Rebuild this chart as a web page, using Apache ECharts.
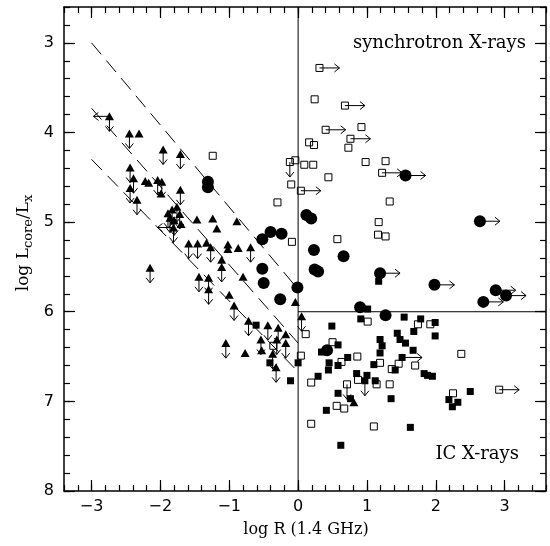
<!DOCTYPE html>
<html>
<head>
<meta charset="utf-8">
<script src="https://cdn.jsdelivr.net/npm/echarts@6/dist/echarts.min.js"></script>
<style>html,body{margin:0;padding:0;background:#fff}#c{width:550px;height:546px}</style>
</head>
<body>
<div id="c"></div>
<script>
// ---- tick values ----
const xMajor = [-3, -2, -1, 0, 1, 2, 3];
const xMinor = [-3.4,-3.2,-3,-2.8,-2.6,-2.4,-2.2,-2,-1.8,-1.6,-1.4,-1.2,-1,-0.8,-0.6,-0.4,-0.2,0,0.2,0.4,0.6,0.8,1,1.2,1.4,1.6,1.8,2,2.2,2.4,2.6,2.8,3,3.2,3.4,3.6];
const yMajor = [3, 4, 5, 6, 7, 8];
const yMinor = [2.6,2.8,3,3.2,3.4,3.6,3.8,4,4.2,4.4,4.6,4.8,5,5.2,5.4,5.6,5.8,6,6.2,6.4,6.6,6.8,7,7.2,7.4,7.6,7.8,8];

// ---- data: [log R, log Lcore/Lx, limit flags (d=down, r=right, l=left)] ----
const triangles = [
  [-2.74,3.82,'dl'],[-2.45,4.01,'d'],[-2.31,4.01,''],[-1.96,4.19,'d'],[-1.71,4.24,'d'],
  [-2.44,4.39,'d'],[-2.39,4.51,'d'],[-2.22,4.54,''],[-2.17,4.56,''],[-2.04,4.53,'d'],
  [-1.98,4.55,'d'],[-1.99,4.68,''],[-2.44,4.62,'d'],[-2.34,4.75,'d'],[-1.71,4.64,'d'],
  [-1.89,4.90,'d'],[-1.83,4.86,'d'],[-1.76,4.83,'d'],[-1.72,4.91,'d'],[-1.80,4.98,'d'],
  [-1.70,5.02,''],[-1.86,4.95,'d'],[-1.81,5.06,'dl'],[-1.47,4.97,''],[-1.24,4.96,''],
  [-1.18,5.07,''],[-0.89,4.99,''],[-1.59,5.24,'d'],[-1.46,5.24,'d'],[-1.33,5.23,''],
  [-1.27,5.28,'d'],[-1.02,5.25,''],[-1.02,5.30,''],[-0.87,5.29,''],[-0.69,5.28,'d'],
  [-1.11,5.42,''],[-1.11,5.50,'d'],[-2.15,5.51,'d'],[-1.44,5.61,'d'],[-1.30,5.62,'d'],
  [-1.30,5.75,'d'],[-0.80,5.61,''],[-1.00,5.81,''],[-0.93,5.93,'d'],[-0.72,6.10,'d'],
  [-0.44,6.15,'d'],[-0.29,6.18,'d'],[-0.18,6.25,''],[-0.54,6.31,'d'],[-0.53,6.43,''],
  [-0.31,6.31,'d'],[-0.18,6.35,'d'],[-1.05,6.35,'d'],[-0.77,6.46,''],[-0.37,6.47,'d'],
  [-0.32,6.62,'d'],[-0.04,5.89,''],[0.05,6.05,'d'],[0.81,7.01,'']
];
const circles = [
  [-1.31,4.55,''],[-1.31,4.61,''],[-0.52,5.19,''],[-0.40,5.11,''],[-0.24,5.13,''],
  [-0.52,5.52,''],[-0.50,5.68,''],[-0.01,5.73,''],[-0.26,5.86,''],[0.12,4.92,''],
  [0.19,4.96,''],[0.23,5.31,''],[0.66,5.38,''],[0.24,5.53,''],[0.29,5.55,''],
  [1.19,5.57,'r'],[1.56,4.48,'r'],[2.64,4.99,'r'],[1.98,5.70,'r'],[2.87,5.76,'r'],
  [3.02,5.82,'r'],[2.69,5.89,'r'],[0.90,5.95,''],[1.27,6.04,''],[0.42,6.43,'']
];
const openSquares = [
  [0.31,3.28,'r'],[0.24,3.63,''],[0.68,3.70,'r'],[0.40,3.97,'r'],[0.92,3.94,''],
  [0.76,4.07,'r'],[0.16,4.11,''],[0.23,4.14,''],[0.73,4.17,''],[-0.12,4.33,'d'],
  [-0.04,4.31,''],[0.09,4.36,''],[0.22,4.36,''],[0.98,4.33,''],[1.27,4.32,''],
  [0.44,4.50,''],[1.22,4.45,'r'],[-0.10,4.58,''],[0.04,4.65,'r'],[-0.30,4.78,''],
  [1.33,4.77,''],[1.17,5.00,''],[1.16,5.14,''],[1.27,5.16,''],[0.57,5.19,''],
  [-0.09,5.22,''],[-1.24,4.26,''],[-0.36,6.38,''],[1.01,6.11,''],[1.74,6.14,''],
  [1.92,6.14,''],[0.11,6.25,''],[0.50,6.34,''],[2.37,6.47,''],[0.04,6.49,''],
  [0.86,6.50,''],[0.63,6.56,''],[1.19,6.57,''],[1.46,6.58,''],[1.70,6.60,''],
  [1.36,6.64,''],[0.19,6.79,''],[0.87,6.76,''],[1.14,6.81,''],[1.33,6.81,''],
  [0.71,6.81,'d'],[2.25,6.91,''],[2.92,6.87,'r'],[0.56,7.05,''],[0.67,7.08,''],
  [0.19,7.25,''],[1.10,7.28,'']
];
const filledSquares = [
  [1.17,5.66,''],[1.01,5.97,''],[1.54,6.06,''],[0.91,6.08,''],[0.49,6.16,''],
  [1.78,6.08,''],[1.99,6.12,''],[1.68,6.22,''],[1.44,6.24,''],[1.99,6.27,''],
  [1.19,6.31,''],[1.22,6.38,''],[1.19,6.46,''],[1.48,6.31,''],[1.56,6.35,''],
  [0.58,6.37,''],[1.67,6.43,''],[0.34,6.45,''],[0.72,6.51,''],[1.51,6.51,'r'],
  [0.45,6.57,''],[0.58,6.60,''],[1.10,6.59,''],[1.41,6.65,''],[0.44,6.65,''],
  [0.29,6.72,''],[0.85,6.69,''],[1.00,6.71,''],[0.97,6.77,'d'],[1.12,6.77,''],
  [1.83,6.69,''],[1.88,6.71,''],[1.95,6.72,''],[0.58,6.91,''],[0.76,6.97,''],
  [1.35,6.97,''],[0.41,7.10,''],[2.19,6.98,''],[2.32,7.01,''],[2.24,7.06,''],
  [2.50,6.89,''],[1.63,7.29,''],[0.62,7.49,''],[-0.11,6.77,''],[0.00,6.57,''],
  [-0.61,6.15,''],[-0.41,6.57,'']
];
// reference lines
const dashedUpper = [[-3, 3.00], [0, 5.75]];
const dashedMiddle = [[-3, 3.73], [0, 6.35]];
const dashedLower = [[-3, 4.30], [0, 6.67]];
const verticalLine = [[0, 2.6], [0, 8]];
const horizontalLine = [[0, 6], [3.6, 6]];

// ---- build ----
const arrows = [];
[triangles, circles, openSquares, filledSquares].forEach(arr => arr.forEach(p => {
  if (p[2].indexOf('d') >= 0) arrows.push([p[0], p[1], 0]);
  if (p[2].indexOf('r') >= 0) arrows.push([p[0], p[1], 1]);
  if (p[2].indexOf('l') >= 0) arrows.push([p[0], p[1], 2]);
}));
const xy = arr => arr.map(p => [p[0], p[1]]);

function renderArrow(params, api) {
  const c = api.coord([api.value(0), api.value(1)]);
  const dir = api.value(2);
  let x2 = c[0], y2 = c[1], head;
  if (dir === 0) { y2 = c[1] + 15; head = [[x2 - 4, y2 - 5], [x2, y2], [x2 + 4, y2 - 5]]; }
  else if (dir === 1) { x2 = c[0] + 20; head = [[x2 - 5, y2 - 4], [x2, y2], [x2 - 5, y2 + 4]]; }
  else { x2 = c[0] - 16; head = [[x2 + 5, y2 - 4], [x2, y2], [x2 + 5, y2 + 4]]; }
  return {
    type: 'group',
    children: [
      { type: 'line', shape: { x1: c[0], y1: c[1], x2: x2, y2: y2 }, style: { stroke: '#000', lineWidth: 1 } },
      { type: 'polyline', shape: { points: head }, style: { stroke: '#000', fill: null, lineWidth: 1 } }
    ]
  };
}

const tickFont = { fontFamily: 'DejaVu Sans', fontSize: 16, color: '#000' };
const fmt = v => (v < 0 ? '\u2212' + Math.abs(v) : String(v));
const base = { type: 'value', splitLine: { show: false } };
function xAx(pos, vals, len, line, labels) {
  return Object.assign({}, base, {
    position: pos, min: -3.4, max: 3.6,
    axisLine: { show: line, onZero: false, lineStyle: { color: '#000', width: 1.5 } },
    axisTick: { show: true, inside: true, length: len, customValues: vals, lineStyle: { color: '#000', width: 1.2 } },
    axisLabel: labels ? Object.assign({ customValues: xMajor, formatter: fmt, margin: 8 }, tickFont) : { show: false }
  });
}
function yAx(pos, vals, len, line, labels) {
  return Object.assign({}, base, {
    position: pos, min: 2.6, max: 8, inverse: true,
    axisLine: { show: line, onZero: false, lineStyle: { color: '#000', width: 1.5 } },
    axisTick: { show: true, inside: true, length: len, customValues: vals, lineStyle: { color: '#000', width: 1.2 } },
    axisLabel: labels ? Object.assign({ customValues: yMajor, formatter: fmt, margin: 10 }, tickFont) : { show: false }
  });
}

const lineSeries = (data, dashed) => ({
  type: 'line', data: data, symbol: 'none', silent: true, animation: false,
  lineStyle: { color: '#000', width: 1, type: dashed ? [15, 8] : 'solid' }, z: 1
});

const chart = echarts.init(document.getElementById('c'), null, { renderer: 'canvas' });
chart.setOption({
  animation: false,
  backgroundColor: '#fff',
  grid: { left: 64, top: 7, right: 4, bottom: 55 },
  xAxis: [xAx('bottom', xMajor, 11, true, true), xAx('bottom', xMinor, 6, false, false),
          xAx('top', xMajor, 11, true, false), xAx('top', xMinor, 6, false, false)],
  yAxis: [yAx('left', yMajor, 11, true, true), yAx('left', yMinor, 6, false, false),
          yAx('right', yMajor, 11, true, false), yAx('right', yMinor, 6, false, false)],
  graphic: [
    { type: 'text', x: 306, y: 530, style: { text: 'log R (1.4 GHz)', font: '16px "DejaVu Serif"', fill: '#000', align: 'center', verticalAlign: 'middle' } },
    { type: 'text', x: 24, y: 243, rotation: Math.PI / 2,
      style: { text: 'log L{s|core}/L{s|x}', fill: '#000', font: '17px "DejaVu Serif"', align: 'center', verticalAlign: 'middle',
        rich: { s: { font: '13px "DejaVu Serif"', padding: [9, 0, 0, 0] } } } },
    { type: 'text', x: 526, y: 43, style: { text: 'synchrotron X-rays', font: '18px "DejaVu Serif"', fill: '#000', align: 'right', verticalAlign: 'middle' } },
    { type: 'text', x: 519, y: 454, style: { text: 'IC X-rays', font: '18px "DejaVu Serif"', fill: '#000', align: 'right', verticalAlign: 'middle' } }
  ],
  series: [
    lineSeries(dashedUpper, true), lineSeries(dashedMiddle, true), lineSeries(dashedLower, true),
    lineSeries(verticalLine, false), lineSeries(horizontalLine, false),
    { type: 'custom', renderItem: renderArrow, data: arrows, encode: { x: 0, y: 1 }, z: 2, silent: true },
    { type: 'scatter', data: xy(openSquares), symbol: 'rect', symbolSize: 7, z: 3,
      itemStyle: { color: 'rgba(255,255,255,0)', borderColor: '#000', borderWidth: 1, opacity: 1 } },
    { type: 'scatter', data: xy(filledSquares), symbol: 'rect', symbolSize: 7, z: 3, itemStyle: { color: '#000', opacity: 1 } },
    { type: 'scatter', data: xy(triangles), symbol: 'triangle', symbolSize: [9, 8], z: 3, itemStyle: { color: '#000', opacity: 1 } },
    { type: 'scatter', data: xy(circles), symbol: 'circle', symbolSize: 12, z: 3, itemStyle: { color: '#000', opacity: 1 } }
  ]
});
</script>
</body>
</html>
